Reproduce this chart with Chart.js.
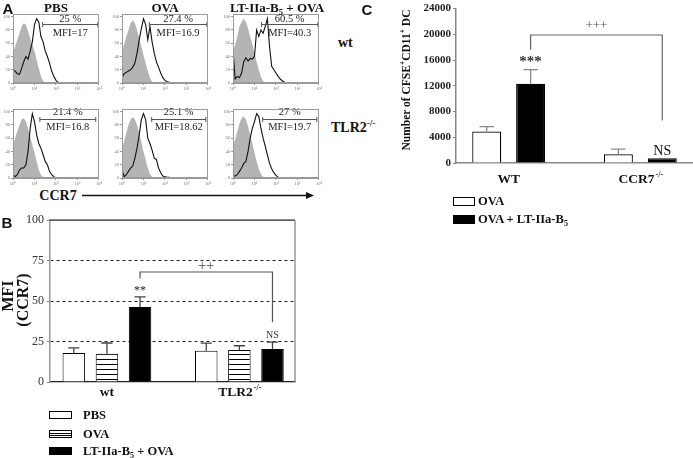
<!DOCTYPE html>
<html><head><meta charset="utf-8">
<script src="https://cdn.jsdelivr.net/npm/chart.js@4.4.1/dist/chart.umd.min.js"></script>
<style>
html,body{margin:0;padding:0;background:#fff}
body{width:693px;height:458px;position:relative;overflow:hidden;font-family:"Liberation Serif",serif;color:#111}
canvas{position:absolute}
.t{position:absolute;white-space:nowrap;line-height:1}
.b{font-weight:bold}
.panel{font-family:"Liberation Sans",Arial,sans-serif;font-weight:bold;font-size:15px}
sup,sub{font-size:65%;line-height:0}
.sw{position:absolute;box-sizing:border-box;border:1px solid #000}
</style></head><body>
<script>
// ---------------- DATA ----------------
// Panel A: flow cytometry histograms (x = log10 CCR7 fluorescence, y = % of max)
const histExp = [0,0.1,0.2,0.3,0.4,0.5,0.6,0.7,0.8,0.9,1.0,1.1,1.2,1.3,1.4,1.5,1.6,1.7,1.8,1.9,2.0,2.1,2.2,2.3,2.4,2.5,2.6];
const histTicksX = [0,1,2,3,4];
const histTicksY = [0,20,40,60,80,100];
const colTitles = ['PBS','OVA','LT-IIa-B5 + OVA'];
const rowLabels = ['wt','TLR2-/-'];
const axisLabelA = 'CCR7';
// isotype control (grey filled)
const isoPBSwt  = [45,55,65,75,85,90,88,78,68,58,48,35,22,10,3,0];
const isoOVAwt  = [48,58,70,80,90,95,90,80,68,55,42,30,18,8,2,0];
const isoLTwt   = [45,58,70,85,92,97,92,82,70,58,45,32,20,9,3,0];
const isoPBStlr = [50,60,70,80,88,90,85,75,62,50,38,25,12,5,1,0];
const isoOVAtlr = [45,55,68,80,88,92,88,80,68,55,40,28,15,6,2,0];
const isoLTtlr  = [48,58,70,82,90,93,88,78,65,52,38,25,14,6,2,0];
// CCR7 staining (black line)
const ccrPBSwt  = [20,18,14,13,22,32,40,36,48,62,88,97,92,70,62,48,40,30,18,10,4,1,0];
const ccrOVAwt  = [8,14,16,18,20,24,30,45,65,82,97,88,65,85,62,45,32,24,15,8,4,2,1,0];
const ccrLTwt   = [50,6,10,8,15,32,38,33,37,36,40,80,70,80,75,85,97,55,25,20,15,10,6,3,1,0];
const ccrPBStlr = [5,2,5,12,15,15,20,40,75,97,85,65,52,45,35,25,20,10,5,2,0];
const ccrOVAtlr = [12,2,5,10,15,18,30,45,65,88,97,88,60,52,42,30,28,15,8,3,2,1,1,0];
const ccrLTtlr  = [3,3,5,10,15,22,25,40,60,75,85,97,93,75,60,48,35,22,14,8,4,1,0];
const gatePct   = ['25 %','27.4 %','60.5 %','21.4 %','25.1 %','27 %'];
const gateMFI   = ['MFI=17','MFI=16.9','MFI=40.3','MFI=16.8','MFI=18.62','MFI=19.7'];
const gateStart = [1.38,1.27,1.33,1.25,1.38,1.38];
const gateEnd   = [3.95,3.95,3.95,3.85,3.9,3.9];

// Panel B: MFI (CCR7)
const groupsB = ['wt','TLR2-/-'];
const seriesB = ['PBS','OVA','LT-IIa-B5 + OVA'];
const mfiPBS = [18.0, 19.3];
const mfiOVA = [17.4, 19.8];
const mfiLT  = [46.4, 20.4];
const semPBS = [3.1, 4.7];
const semOVA = [6.7, 2.6];
const semLT  = [6.2, 4.3];
const ticksB = [0,25,50,75,100];
const yTitleB = ['MFI','(CCR7)'];
const sigB = {stars:'**', ns:'NS', plus:'++'};

// Panel C: number of CFSE+CD11+ DC
const groupsC = ['WT','CCR7-/-'];
const seriesC = ['OVA','OVA + LT-IIa-B5'];
const cellsOVA = [4900, 1350];
const cellsLT  = [12300, 750];
const semCOVA  = [750, 800];
const semCLT   = [2200, 0];
const ticksC = [0,4000,8000,12000,16000,20000,24000];
const sigC = {stars:'***', ns:'NS', plus:'+++'};

// ---------------- HELPERS ----------------
const SERIF = '"Liberation Serif", "Times New Roman", serif';
const fmt = s => s.replace(/B5/,'B<sub>5</sub>').replace(/-\/-$/,'<sup>-/-</sup>');
function txt(html, x, y, cls, style, anchor){
  const d=document.createElement('div'); d.className='t '+(cls||''); d.innerHTML=html;
  d.style.cssText += (style||'');
  d.style.left=x+'px'; d.style.top=y+'px';
  d.style.transform = anchor==='l' ? 'translate(0,-50%)' : anchor==='rot' ? 'translate(-50%,-50%) rotate(-90deg)' : 'translate(-50%,-50%)';
  document.body.appendChild(d); return d;
}
function mkCanvas(l,t,w,h){const c=document.createElement('canvas');c.width=w;c.height=h;c.style.left=l+'px';c.style.top=t+'px';document.body.appendChild(c);return c;}
const supDigits = ['⁰','¹','²','³','⁴'];

// ---------------- PANEL A ----------------
const isoSets = [isoPBSwt,isoOVAwt,isoLTwt,isoPBStlr,isoOVAtlr,isoLTtlr];
const ccrSets = [ccrPBSwt,ccrOVAwt,ccrLTwt,ccrPBStlr,ccrOVAtlr,ccrLTtlr];
const colL = [13,122,233], rowT = [14,109], BW = 87, BH = 69;
const rowTxtY = [{pct:96.5,mfi:75.5},{pct:99.5,mfi:77}];
const gateY = 89;

const framePlugin = {id:'frame', afterDraw(ch){const {ctx,chartArea:a}=ch;ctx.save();ctx.strokeStyle='#9a9a9a';ctx.lineWidth=1;ctx.strokeRect(a.left+0.5,a.top+0.5,a.width-1,a.height-1);ctx.restore();}};

for(let p=0;p<6;p++){
  const r = Math.floor(p/3), c = p%3;
  const L = colL[c], T = rowT[r];
  const cv = mkCanvas(L-13, T-4, BW+16, BH+4+9);
  const gate = {id:'gate'+p, afterDatasetsDraw(ch){
    const {ctx, scales:{x,y}} = ch;
    const x1=x.getPixelForValue(gateStart[p]), x2=x.getPixelForValue(gateEnd[p]), yy=Math.round(y.getPixelForValue(gateY))+0.5;
    ctx.save(); ctx.strokeStyle='#555'; ctx.lineWidth=1;
    ctx.beginPath(); ctx.moveTo(x1,yy); ctx.lineTo(x2,yy);
    ctx.moveTo(x1,yy-2.5); ctx.lineTo(x1,yy+2.5); ctx.moveTo(x2,yy-2.5); ctx.lineTo(x2,yy+2.5); ctx.stroke();
    ctx.fillStyle='#222'; ctx.font='10.5px '+SERIF; ctx.textAlign='center'; ctx.textBaseline='middle';
    const xm=(x1+x2)/2;
    ctx.fillText(gatePct[p], xm, y.getPixelForValue(rowTxtY[r].pct));
    ctx.fillText(gateMFI[p], xm, y.getPixelForValue(rowTxtY[r].mfi));
    ctx.restore();
  }};
  new Chart(cv, {type:'line',
    data:{datasets:[
      {data: histExp.map((e,i)=>({x:e, y: ccrSets[p][i] ?? 0})), borderColor:'#111', borderWidth:1.1, pointRadius:0, fill:false, tension:0},
      {data: histExp.map((e,i)=>({x:e, y: isoSets[p][i] ?? 0})), borderWidth:0, borderColor:'rgba(0,0,0,0)', backgroundColor:'#b4b4b4', pointRadius:0, fill:'origin', tension:0}
    ]},
    options:{responsive:false, animation:false, events:[], layout:{padding:{top:4,right:3,left:0,bottom:0}},
      plugins:{legend:{display:false}, tooltip:{enabled:false}},
      scales:{
        x:{type:'linear', min:0, max:4, afterBuildTicks:s=>{s.ticks=histTicksX.map(v=>({value:v}));}, afterFit:s=>{s.height=9;},
           ticks:{autoSkip:false, maxRotation:0, font:{size:4.5,family:SERIF}, color:'#777', padding:1, callback:v=>'10'+supDigits[v]},
           grid:{drawOnChartArea:false, tickLength:2, color:'#999'}, border:{color:'#999'}},
        y:{min:0, max:104, afterBuildTicks:s=>{s.ticks=histTicksY.map(v=>({value:v}));}, afterFit:s=>{s.width=13;},
           ticks:{autoSkip:false, font:{size:4.5,family:SERIF}, color:'#777', padding:1},
           grid:{drawOnChartArea:false, tickLength:2, color:'#999'}, border:{color:'#999'}}
      }},
    plugins:[framePlugin, gate]});
}
[56,165,277].forEach((cx,i)=>txt(fmt(colTitles[i]), cx, 7, 'b', 'font-size:13px'));
txt(fmt(rowLabels[0]), 338, 43, 'b', 'font-size:14px', 'l');
txt(fmt(rowLabels[1]), 331, 128, 'b', 'font-size:14px', 'l');
txt(axisLabelA, 58, 196, 'b', 'font-size:14px');
document.body.insertAdjacentHTML('beforeend','<svg style="position:absolute;left:0;top:0" width="693" height="458"><line x1="82" y1="195.5" x2="307" y2="195.5" stroke="#111" stroke-width="1.3"/><polygon points="306,192 314,195.5 306,199" fill="#111"/></svg>');
txt('A', 8, 8, 'panel');

// ---------------- shared plugins ----------------
function errPlugin(errs, color){ return {id:'err', afterDatasetsDraw(ch){
  const {ctx, scales:{y}} = ch; ctx.save(); ctx.strokeStyle=color; ctx.lineWidth=1.3;
  ch.data.datasets.forEach((ds,di)=>{ ch.getDatasetMeta(di).data.forEach((el,i)=>{
    const e = errs[di][i]; if(!e) return;
    const top = y.getPixelForValue(ds.data[i].y + e);
    ctx.beginPath(); ctx.moveTo(el.x, el.y); ctx.lineTo(el.x, top);
    ctx.moveTo(el.x - el.width/4, top); ctx.lineTo(el.x + el.width/4, top); ctx.stroke();
  });});
  ctx.restore();
}};}
function xLabelPlugin(labels, dy, size){ return {id:'xl', afterDraw(ch){
  const {ctx, scales:{x}, chartArea:a} = ch; ctx.save(); ctx.fillStyle='#111'; ctx.textBaseline='middle';
  labels.forEach((lab,i)=>{
    const m = lab.match(/^(.*?)(-\/-)?$/); const base=m[1], sp=m[2]||'';
    ctx.font='bold '+size+'px '+SERIF; const wb=ctx.measureText(base).width;
    ctx.font='bold '+(size*0.6)+'px '+SERIF; const ws=ctx.measureText(sp).width;
    const x0 = x.getPixelForValue(i) - (wb+ws)/2, yy = a.bottom + dy;
    ctx.font='bold '+size+'px '+SERIF; ctx.textAlign='left'; ctx.fillText(base, x0, yy);
    if(sp){ ctx.font='bold '+(size*0.6)+'px '+SERIF; ctx.fillText(sp, x0+wb+1, yy-size*0.35); }
  });
  ctx.restore();
}};}
function bracket(ch, di1, i1, di2, i2, yl, yt, yr, color){
  const {ctx, scales:{y}} = ch;
  const x1 = ch.getDatasetMeta(di1).data[i1].x, x2 = ch.getDatasetMeta(di2).data[i2].x;
  ctx.save(); ctx.strokeStyle=color; ctx.lineWidth=1.2; ctx.beginPath();
  ctx.moveTo(x1, y.getPixelForValue(yl)); ctx.lineTo(x1, y.getPixelForValue(yt));
  ctx.lineTo(x2, y.getPixelForValue(yt)); ctx.lineTo(x2, y.getPixelForValue(yr)); ctx.stroke(); ctx.restore();
  return [x1,x2];
}
function label(ch, s, x, v, font, color){ const {ctx, scales:{y}} = ch; ctx.save(); ctx.font=font; ctx.fillStyle=color; ctx.textAlign='center'; ctx.textBaseline='middle'; ctx.fillText(s, x, y.getPixelForValue(v)); ctx.restore(); }

// ---------------- PANEL B ----------------
const stripeCv = document.createElement('canvas'); stripeCv.width=4; stripeCv.height=5;
{const g=stripeCv.getContext('2d'); g.fillStyle='#fff'; g.fillRect(0,0,4,5); g.fillStyle='#000'; g.fillRect(0,4,4,1);}
const cvB = mkCanvas(0, 210, 300, 195);
const stripe = cvB.getContext('2d').createPattern(stripeCv,'repeat');
const annB = {id:'annB', afterDatasetsDraw(ch){
  const {ctx, chartArea:a} = ch; ctx.save();
  ctx.strokeStyle='#222'; ctx.lineWidth=1.2; ctx.beginPath(); ctx.moveTo(a.left,a.top); ctx.lineTo(a.right,a.top); ctx.stroke();
  ctx.strokeStyle='#999'; ctx.lineWidth=1.5; ctx.beginPath(); ctx.moveTo(a.right,a.top); ctx.lineTo(a.right,a.bottom); ctx.stroke(); ctx.restore();
  const [x1,x2] = bracket(ch, 2,0, 2,1, 64, 68, 37, '#555');
  label(ch, sigB.plus, (x1+x2)/2, 71.5, '14px '+SERIF, '#444');
  label(ch, sigB.stars, x1, 56.5, '12px '+SERIF, '#222');
  label(ch, sigB.ns, x2, 29, '10px '+SERIF, '#333');
}};
const dsB = (lab, vals, bg) => ({label:lab, data: groupsB.map((g,i)=>({x:i, y:vals[i]})), backgroundColor:bg, borderColor:'#000', borderWidth:1, categoryPercentage:0.75, barPercentage:0.68});
new Chart(cvB, {type:'bar',
  data:{datasets:[dsB(seriesB[0], mfiPBS, '#fff'), dsB(seriesB[1], mfiOVA, stripe), dsB(seriesB[2], mfiLT, '#000')]},
  options:{responsive:false, animation:false, events:[], layout:{padding:{top:10,right:5,left:0,bottom:0}},
    plugins:{legend:{display:false}, tooltip:{enabled:false}},
    scales:{
      x:{type:'linear', offset:false, bounds:'data', min:-0.43, max:1.42, afterBuildTicks:s=>{s.ticks=groupsB.map((g,i)=>({value:i}));}, afterFit:s=>{s.height=23;},
         ticks:{display:false}, grid:{display:false, offset:false}, border:{color:'#222', width:1.2}},
      y:{min:0, max:100, afterBuildTicks:s=>{s.ticks=ticksB.map(v=>({value:v}));}, afterFit:s=>{s.width=50;},
         ticks:{font:{size:12, family:SERIF}, color:'#333', padding:3},
         grid:{color:c=>[25,50,75].includes(c.tick && c.tick.value)?'#222':'rgba(0,0,0,0)', tickColor:'#777', tickLength:3, lineWidth:1},
         border:{color:'#999', width:1.5, dash:[3,3]}}
    }},
  plugins:[errPlugin([semPBS,semOVA,semLT], '#444'), annB, xLabelPlugin(groupsB, 11, 13.5)]});
txt('B', 7, 222, 'panel');
txt(yTitleB[0], 8, 296, 'b', 'font-size:16px', 'rot');
txt(yTitleB[1], 23, 300, 'b', 'font-size:16px', 'rot');
// legend B
const swB = ['background:#fff','background:repeating-linear-gradient(to bottom,#fff 0 1.5px,#000 1.5px 2.5px)','background:#000'];
[415,433.5,451].forEach((cy,i)=>{
  const d=document.createElement('div'); d.className='sw'; d.style.cssText+=swB[i]+';left:49px;top:'+(cy-4)+'px;width:23px;height:8px'; document.body.appendChild(d);
  txt(fmt(seriesB[i]), 83, cy, 'b', 'font-size:12.5px', 'l');
});

// ---------------- PANEL C ----------------
const cvC = mkCanvas(360, 0, 333, 190);
const annC = {id:'annC', afterDatasetsDraw(ch){
  const [x1,x2] = bracket(ch, 1,0, 1,1, 17600, 19900, 6600, '#666');
  label(ch, sigC.plus, (x1+x2)/2, 21300, '13px '+SERIF, '#555');
  label(ch, sigC.stars, x1, 15700, 'bold 15px '+SERIF, '#333');
  label(ch, sigC.ns, x2, 1750, '14px '+SERIF, '#111');
}};
const dsC = (lab, vals, bg) => ({label:lab, data: groupsC.map((g,i)=>({x:i, y:vals[i]})), backgroundColor:bg, borderColor:'#000', borderWidth:1.2, categoryPercentage:0.667, barPercentage:0.66});
new Chart(cvC, {type:'bar',
  data:{datasets:[dsC(seriesC[0], cellsOVA, '#fff'), dsC(seriesC[1], cellsLT, '#000')]},
  options:{responsive:false, animation:false, events:[], layout:{padding:{top:6,right:0,left:0,bottom:0}},
    plugins:{legend:{display:false}, tooltip:{enabled:false}},
    scales:{
      x:{type:'linear', offset:false, bounds:'data', min:-0.4, max:1.4, afterBuildTicks:s=>{s.ticks=groupsC.map((g,i)=>({value:i}));}, afterFit:s=>{s.height=27;},
         ticks:{display:false}, grid:{display:false, offset:false}, border:{color:'#888', width:1.5}},
      y:{min:0, max:24000, afterBuildTicks:s=>{s.ticks=ticksC.map(v=>({value:v}));}, afterFit:s=>{s.width=96;},
         ticks:{font:{size:11, family:SERIF, weight:'bold'}, color:'#222', padding:2, callback:v=>String(v)},
         grid:{drawOnChartArea:false, tickLength:3, color:'#888'}, border:{color:'#888', width:1.5}}
    }},
  plugins:[errPlugin([semCOVA, semCLT], '#888'), annC, xLabelPlugin(groupsC, 17, 13.5)]});
txt('C', 367, 9, 'panel');
txt('Number of CFSE<sup>+</sup>CD11<sup>+</sup> DC', 407, 80, 'b', 'font-size:11.5px', 'rot');
const swC = ['background:#fff','background:#000'];
[201,219].forEach((cy,i)=>{
  const d=document.createElement('div'); d.className='sw'; d.style.cssText+=swC[i]+';left:453px;top:'+(cy-4.5)+'px;width:22px;height:9px'; document.body.appendChild(d);
  txt(fmt(seriesC[i]), 478, cy, 'b', 'font-size:12.5px', 'l');
});
</script>
</body></html>
